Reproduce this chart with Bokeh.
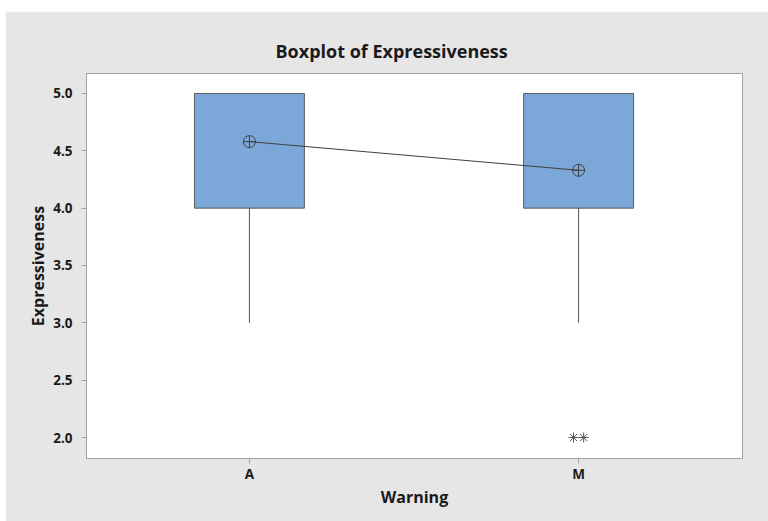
from bokeh.plotting import figure
from bokeh.models import ColumnDataSource, FixedTicker, Range1d, Title
from bokeh.embed import file_html
from bokeh.resources import INLINE

categories = ["A", "M"]
q1 = [4.0, 4.0]
q3 = [5.0, 5.0]
whisker_low = [3.0, 3.0]
whisker_high = [5.0, 5.0]
means = [4.58, 4.33]
outlier_cat = ["M", "M"]
outlier_val = [2.0, 2.0]
y_ticks = [2.0, 2.5, 3.0, 3.5, 4.0, 4.5, 5.0]

xpos = [i + 1 for i in range(len(categories))]
BG = "#e6e6e6"
FONT = "Open Sans"

p = figure(width=763, height=510, output_backend="svg", toolbar_location=None,
           x_range=Range1d(0.505, 2.498), y_range=Range1d(1.817, 5.174),
           background_fill_color="white", border_fill_color=BG,
           min_border_left=81, min_border_right=26, min_border_top=62, min_border_bottom=63)
p.margin = (11, 0, 0, 5)

box_w = 0.334
src = ColumnDataSource(dict(x=xpos, q1=q1, q3=q3, lo=whisker_low, hi=whisker_high, mean=means))
p.segment(x0="x", y0="lo", x1="x", y1="q1", source=src, line_color="#555555", line_width=1)
p.vbar(x="x", bottom="q1", top="q3", width=box_w, source=src,
       fill_color="#7ba7d9", line_color="#5a5a5a", line_width=1)
p.line(x="x", y="mean", source=src, line_color="#404040", line_width=1)
p.scatter(x="x", y="mean", source=src, marker="circle_cross", size=12,
          fill_color=None, line_color="#404040", line_width=1)

# outliers placed side by side around their category
ox = []
for i, c in enumerate(outlier_cat):
    base = categories.index(c) + 1
    n = outlier_cat.count(c)
    k = [j for j, cc in enumerate(outlier_cat) if cc == c].index(i)
    ox.append(base + (k - (n - 1) / 2) * 0.031)
p.scatter(x=ox, y=outlier_val, marker="asterisk", size=10, line_color="#555555", line_width=1)

p.title = Title(text="Boxplot of Expressiveness", align="left", offset=189,
                text_font=FONT, text_font_size="18px", text_font_style="bold",
                text_color="#1a1a1a", standoff=21)

p.xaxis.ticker = FixedTicker(ticks=xpos)
p.xaxis.major_label_overrides = {x: c for x, c in zip(xpos, categories)}
p.yaxis.ticker = FixedTicker(ticks=y_ticks)
p.yaxis.major_label_overrides = {v: f"{v:.1f}" for v in y_ticks}
p.xaxis.axis_label = "Warning"
p.yaxis.axis_label = "Expressiveness"
for ax in (p.xaxis, p.yaxis):
    ax.axis_line_color = "#a0a0a0"
    ax.major_tick_line_color = "#a0a0a0"
    ax.major_tick_out = 5
    ax.major_tick_in = 0
    ax.minor_tick_line_color = None
    ax.major_label_text_font = FONT
    ax.major_label_text_font_size = "13.5px"
    ax.major_label_text_font_style = "bold"
    ax.major_label_text_color = "#1a1a1a"
    ax.axis_label_text_font = FONT
    ax.axis_label_text_font_size = "16px"
    ax.axis_label_text_font_style = "bold"
    ax.axis_label_text_color = "#1a1a1a"
p.xaxis.major_label_standoff = 1
p.yaxis.major_label_standoff = 9
p.xaxis.axis_label_standoff = 0
p.yaxis.axis_label_standoff = 1
p.xgrid.grid_line_color = None
p.ygrid.grid_line_color = None
p.outline_line_color = "#a0a0a0"

open("out.html", "w").write(file_html(p, INLINE))
